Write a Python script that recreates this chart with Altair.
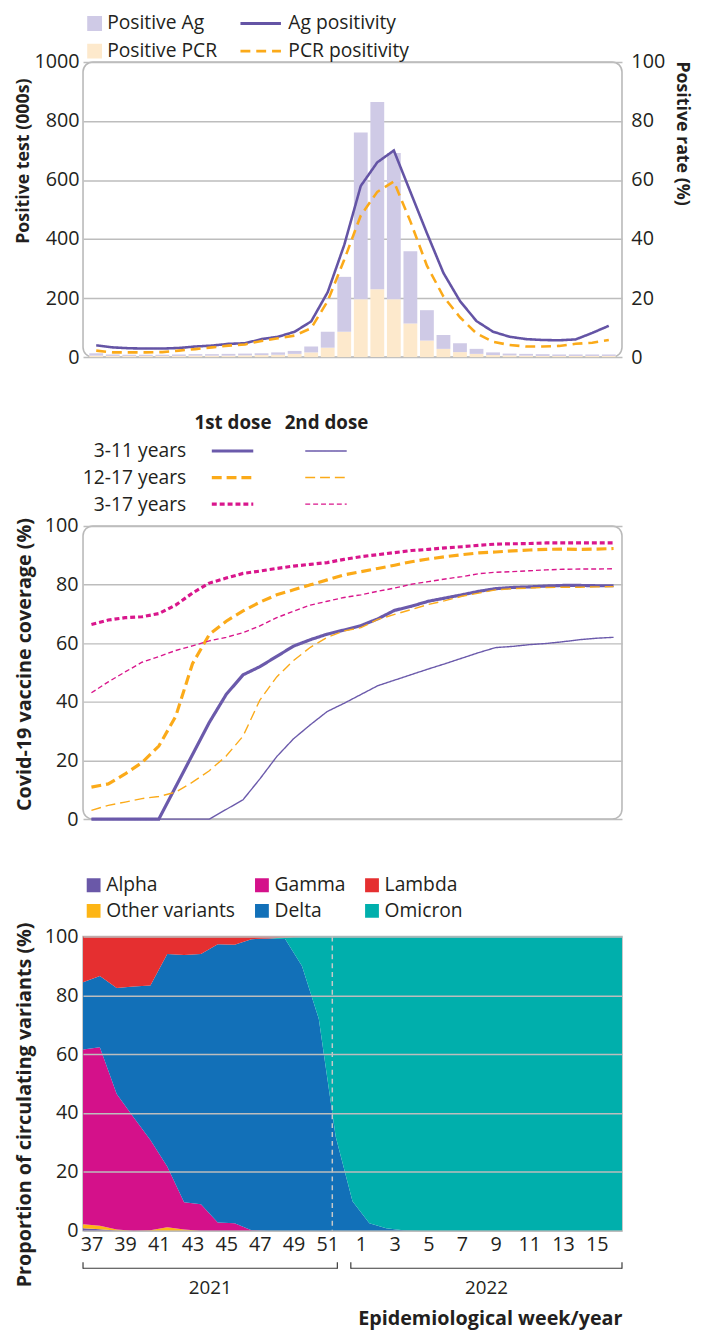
import altair as alt
import pandas as pd

# ---------------- data ----------------
weeks = list(range(37, 53)) + list(range(1, 17))
positions = list(range(len(weeks)))  # slot of each epidemiological week on the x axis

# Panel A: positive tests (thousands) and positivity (%)
positive_pcr = [5, 4, 4, 4, 4, 4, 5, 5, 5, 6, 7, 8, 11, 16, 32, 86, 196, 230, 196, 114, 56, 28, 17, 11, 7, 6, 5, 4, 4, 4, 4, 4]
positive_ag = [8, 5, 4, 4, 4, 5, 5, 5, 6, 6, 6, 8, 10, 20, 54, 186, 565, 634, 496, 245, 103, 47, 30, 17, 9, 6, 6, 6, 5, 5, 5, 5]
ag_positivity = [4.0, 3.3, 3.0, 2.9, 2.9, 3.1, 3.6, 3.9, 4.5, 4.7, 6.1, 6.9, 8.6, 12.1, 22.0, 38.0, 58.0, 66.0, 70.0, 56.0,
                 42.0, 28.5, 19.0, 12.2, 8.6, 6.9, 6.1, 5.8, 5.7, 6.0, 8.2, 10.6]
pcr_positivity = [2.2, 1.6, 1.6, 1.6, 1.7, 2.2, 2.7, 3.3, 3.9, 4.3, 5.5, 6.4, 7.3, 9.8, 19.0, 33.0, 48.0, 56.0, 59.5, 46.0,
                  31.0, 20.5, 13.5, 8.0, 5.2, 4.1, 3.6, 3.6, 3.8, 4.5, 4.9, 5.8]

# Panel B: vaccine coverage (%)
age_groups = ["3-11 years", "12-17 years", "3-17 years"]
doses = ["1st dose", "2nd dose"]
cov_3_11_dose1 = [0, 0, 0, 0, 0, 11, 22, 33, 42.5, 49.2, 52, 55.5, 59, 61.2, 63.1, 64.5, 66, 68.3, 71.2, 72.6, 74.3, 75.4,
                  76.5, 77.7, 78.6, 79, 79.2, 79.5, 79.7, 79.7, 79.6, 79.6]
cov_3_11_dose2 = [0, 0, 0, 0, 0, 0, 0, 0, 3.3, 6.6, 13.7, 21.3, 27.4, 32.2, 36.7, 39.5, 42.5, 45.5, 47.4, 49.3, 51.2, 53,
                  54.9, 56.8, 58.5, 58.9, 59.5, 59.9, 60.5, 61.2, 61.7, 62]
cov_12_17_dose1 = [10.9, 12, 15.4, 19.3, 24.9, 35, 53, 63, 67.5, 71, 74, 76.5, 78.2, 79.9, 81.6, 83.3, 84.4, 85.5, 86.6,
                   87.8, 88.7, 89.5, 90.2, 90.8, 91.1, 91.5, 91.8, 92, 92.1, 92, 92.1, 92.3]
cov_12_17_dose2 = [3.0, 4.7, 5.8, 7, 7.7, 9.2, 12.6, 16.5, 21.5, 28.3, 40.6, 48.5, 54.1, 58.6, 62, 64.2, 65.3, 68.1, 69.8,
                   71.5, 73.2, 74.5, 76, 77.1, 78.2, 78.6, 78.8, 79, 79.1, 79.1, 79.2, 79.3]
cov_3_17_dose1 = [66.4, 67.9, 68.7, 69, 70.1, 73, 77.1, 80.5, 82.2, 83.8, 84.6, 85.5, 86.3, 86.9, 87.5, 88.6, 89.5, 90.2,
                  90.9, 91.6, 92, 92.5, 92.9, 93.4, 93.8, 93.9, 94, 94.2, 94.2, 94.2, 94.2, 94.2]
cov_3_17_dose2 = [43.1, 46.8, 50.2, 53.5, 55.4, 57.5, 59.1, 60.8, 62, 63.6, 65.9, 68.7, 70.9, 73, 74.3, 75.6, 76.5, 77.7,
                  78.8, 80.1, 81, 81.9, 82.7, 83.7, 84.2, 84.4, 84.7, 85, 85.2, 85.3, 85.3, 85.4]

# Panel C: proportion of circulating variants (%)
variants_legend = ["Alpha", "Other variants", "Gamma", "Delta", "Lambda", "Omicron"]  # legend filled column by column
variants_stack = ["Alpha", "Other variants", "Gamma", "Delta", "Omicron", "Lambda"]   # bottom -> top
alpha = [0.8, 0.5, 0.1] + [0] * 29
other = [1.4, 1.2, 0.3, 0, 0.2, 1.2, 0.4] + [0] * 25
gamma = [59.4, 60.7, 46.1, 38.6, 30.6, 20.6, 9.3, 9.0, 2.8, 2.5, 0.2] + [0] * 21
delta = [22.9, 24.2, 36.0, 44.4, 52.6, 72.3, 84.0, 85.1, 94.6, 94.7, 98.9, 99.3, 99.2, 90, 72, 32, 10, 2.5, 0.8, 0.2] + [0] * 12
omicron = [0] * 12 + [0.5, 10, 28, 68, 90, 97.5, 99.2, 99.8] + [100] * 12
lambda_ = [15.5, 13.4, 17.5, 17.0, 16.6, 5.9, 6.3, 5.9, 2.6, 2.8, 0.9, 0.7, 0.3] + [0] * 19
omicron_marker = [14.3]

year_labels = ["2021", "2022"]
year_start = [-0.5, 15.4]
year_end = [14.6, 31.5]

# ---------------- styles ----------------
TXT = "#231f20"
FONT = "Open Sans"
W = 546
X_DOMAIN = [-0.5, 31.5]
LEG_FS = 19.5

ag_bar, pcr_bar = "#cfcae6", "#fde9cc"
ag_line, pcr_line = "#6454a5", "#fbaa19"
age_colors = ["#6b5aab", "#fbaa19", "#d9168c"]
age_dashes = [[1, 0], [10, 5], [5, 3]]
variant_colors = {"Alpha": "#6a58a8", "Gamma": "#d4118a", "Lambda": "#e52f30",
                  "Other variants": "#fdb515", "Delta": "#1270b8", "Omicron": "#00afac"}

xscale = alt.Scale(domain=X_DOMAIN, nice=False, zero=False)

# ---------------- panel A ----------------
bars_df = pd.DataFrame({
    "pos": positions * 2,
    "series": ["Positive PCR"] * len(weeks) + ["Positive Ag"] * len(weeks),
    "value": positive_pcr + positive_ag,
    "rank": [0] * len(weeks) + [1] * len(weeks),
})
lines_df = pd.DataFrame({
    "pos": positions * 2,
    "series": ["Ag positivity"] * len(weeks) + ["PCR positivity"] * len(weeks),
    "rate": ag_positivity + pcr_positivity,
})

bar_legend = alt.Legend(title=None, orient="none", legendX=2, legendY=-49, direction="vertical",
                        symbolType="square", symbolSize=225, symbolStrokeWidth=0, clipHeight=20,
                        rowPadding=8, labelOffset=3)
line_legend = alt.Legend(title=None, orient="none", legendX=158, legendY=-49, direction="vertical",
                         symbolType="stroke", symbolSize=1681, symbolStrokeWidth=3, clipHeight=20,
                         rowPadding=8, labelOffset=6)

bars = alt.Chart(bars_df).mark_bar(width=14).encode(
    x=alt.X("pos:Q", scale=xscale, axis=None),
    y=alt.Y("value:Q", stack="zero", scale=alt.Scale(domain=[0, 1000], nice=False),
            axis=alt.Axis(values=[0, 200, 400, 600, 800, 1000], format="d", title="Positive test (000s)", grid=True,
                          titleX=-51, titleY=100, titleFontSize=18, labelPadding=4)),
    color=alt.Color("series:N", scale=alt.Scale(domain=["Positive Ag", "Positive PCR"], range=[ag_bar, pcr_bar]),
                    legend=bar_legend),
    order=alt.Order("rank:Q"),
)
lines = alt.Chart(lines_df).mark_line(strokeWidth=2.6).encode(
    x=alt.X("pos:Q", scale=xscale, axis=None),
    y=alt.Y("rate:Q", scale=alt.Scale(domain=[0, 100], nice=False),
            axis=alt.Axis(orient="right", values=[0, 20, 40, 60, 80, 100], title="Positive rate (%)", grid=False,
                          labelPadding=9, titlePadding=8, titleY=72, titleFontSize=18)),
    color=alt.Color("series:N", scale=alt.Scale(domain=["Ag positivity", "PCR positivity"], range=[ag_line, pcr_line]),
                    legend=line_legend),
    strokeDash=alt.StrokeDash("series:N", scale=alt.Scale(domain=["Ag positivity", "PCR positivity"],
                                                          range=[[1, 0], [10, 6]]), legend=line_legend),
)
top = alt.layer(bars, lines).resolve_scale(y="independent", color="independent", strokeDash="independent").properties(
    width=W, height=299)

# ---------------- panel B ----------------
cov_series = {
    ("3-11 years", "1st dose"): cov_3_11_dose1, ("3-11 years", "2nd dose"): cov_3_11_dose2,
    ("12-17 years", "1st dose"): cov_12_17_dose1, ("12-17 years", "2nd dose"): cov_12_17_dose2,
    ("3-17 years", "1st dose"): cov_3_17_dose1, ("3-17 years", "2nd dose"): cov_3_17_dose2,
}
rows = []
for (age, dose), vals in cov_series.items():
    for p, v in zip(positions, vals):
        rows.append({"pos": p, "age": age, "dose": dose, "coverage": v})
cov_df = pd.DataFrame(rows)

age_color = alt.Scale(domain=age_groups, range=age_colors)
age_dash = alt.Scale(domain=age_groups, range=age_dashes)
dose_width = alt.Scale(domain=doses, range=[3.2, 1.4])

mid = alt.Chart(cov_df).mark_line().encode(
    x=alt.X("pos:Q", scale=xscale, axis=None),
    y=alt.Y("coverage:Q", scale=alt.Scale(domain=[0, 100], nice=False),
            axis=alt.Axis(values=[0, 20, 40, 60, 80, 100], title="Covid-19 vaccine coverage (%)", grid=True,
                          titleX=-49, titleY=140)),
    color=alt.Color("age:N", scale=age_color, legend=None),
    strokeDash=alt.StrokeDash("age:N", scale=age_dash, legend=None),
    strokeWidth=alt.StrokeWidth("dose:N", scale=dose_width, legend=None),
    detail="dose:N",
).properties(width=W, height=297)

key_df = pd.DataFrame([{"age": a, "dose": d} for a in age_groups for d in doses])
dose_key = alt.Chart(key_df).mark_point(shape="stroke", size=1764, filled=False, opacity=1).encode(
    x=alt.X("dose:N", scale=alt.Scale(type="point", domain=doses, padding=1, align=0.8),
            axis=alt.Axis(orient="top", title=None, labelAngle=0, labelFontWeight="bold", labelFontSize=19,
                          labelPadding=11, domain=False, ticks=False, grid=False)),
    y=alt.Y("age:N", scale=alt.Scale(type="point", domain=age_groups, padding=0.3),
            axis=alt.Axis(title=None, offset=-104, labelPadding=0, labelFontSize=LEG_FS, domain=False, ticks=False,
                          grid=False)),
    color=alt.Color("age:N", scale=age_color, legend=None),
    strokeDash=alt.StrokeDash("age:N", scale=age_dash, legend=None),
    strokeWidth=alt.StrokeWidth("dose:N", scale=dose_width, legend=None),
).properties(width=284, height=70, view=alt.ViewBackground(stroke="transparent"))

# ---------------- panel C ----------------
variant_values = {"Alpha": alpha, "Other variants": other, "Gamma": gamma, "Delta": delta,
                  "Omicron": omicron, "Lambda": lambda_}
vrows = []
for v in variants_stack:
    vals = variant_values[v]
    # each weekly share is drawn across its week slot (slot start .. end)
    for p, val in zip(positions, vals):
        vrows.append({"pos": p - 0.5, "variant": v, "share": val, "rank": variants_stack.index(v)})
    vrows.append({"pos": positions[-1] + 0.5, "variant": v, "share": vals[-1], "rank": variants_stack.index(v)})
var_df = pd.DataFrame(vrows)

label_expr = "[" + ",".join("'%d'" % w for w in weeks) + "][datum.value]"
x_axis_c = alt.Axis(values=positions[::2], labelExpr=label_expr, title="Epidemiological week/year",
                    titleAnchor="end", titlePadding=55, titleFontSize=20, labelPadding=4, labelFlush=False,
                    labelOverlap=False, grid=False)

H_C = 298
area = alt.Chart(var_df).mark_area(interpolate="linear").encode(
    x=alt.X("pos:Q", scale=xscale, axis=x_axis_c),
    y=alt.Y("share:Q", stack="zero", scale=alt.Scale(domain=[0, 100], nice=False),
            axis=alt.Axis(values=[0, 20, 40, 60, 80, 100], title="Proportion of circulating variants (%)",
                          grid=True, zindex=1, titleX=-49, titleY=170)),
    color=alt.Color("variant:N", scale=alt.Scale(domain=variants_legend,
                                                 range=[variant_colors[v] for v in variants_legend]),
                    legend=alt.Legend(title=None, orient="none", legendX=1, legendY=-62, columns=3,
                                      symbolType="square", symbolSize=196, symbolStrokeWidth=0, clipHeight=20,
                                      rowPadding=6, columnPadding=16.5, labelOffset=3)),
    order=alt.Order("rank:Q"),
)
marker = alt.Chart(pd.DataFrame({"pos": omicron_marker})).mark_rule(
    color="#c8c8c8", strokeDash=[5, 4], strokeWidth=1.5).encode(x=alt.X("pos:Q", scale=xscale, axis=x_axis_c))

years_df = pd.DataFrame({"year": year_labels, "pos": year_start, "pos_end": year_end})
bracket = alt.Chart(years_df).mark_rule(color="#3a3a3a", strokeWidth=1.2).encode(
    x=alt.X("pos:Q", scale=xscale, axis=x_axis_c), x2="pos_end:Q", y=alt.value(H_C + 38))
bracket_l = alt.Chart(years_df).mark_rule(color="#3a3a3a", strokeWidth=1.2).encode(
    x=alt.X("pos:Q", scale=xscale, axis=x_axis_c), y=alt.value(H_C + 32), y2=alt.value(H_C + 38.5))
bracket_r = alt.Chart(years_df).mark_rule(color="#3a3a3a", strokeWidth=1.2).encode(
    x=alt.X("pos_end:Q", scale=xscale, axis=x_axis_c), y=alt.value(H_C + 32), y2=alt.value(H_C + 38.5))
year_text = alt.Chart(years_df).transform_calculate(
    mid="(datum.pos + datum.pos_end) / 2").mark_text(font=FONT, fontSize=19, color=TXT).encode(
    x=alt.X("mid:Q", scale=xscale, axis=x_axis_c), y=alt.value(H_C + 58), text="year:N")

bottom = alt.layer(area, marker, bracket, bracket_l, bracket_r, year_text).properties(
    width=W, height=H_C, view=alt.ViewBackground(cornerRadius=0))

# ---------------- assemble ----------------
middle = alt.vconcat(dose_key, mid, spacing=0).resolve_scale(x="independent", y="independent")
chart = alt.vconcat(top, middle, bottom, spacing=45).resolve_scale(
    x="independent", y="independent", color="independent", strokeDash="independent", strokeWidth="independent"
).configure(padding={"left": 6, "top": -4, "right": 6, "bottom": 0}, background="white").configure_view(
    stroke="#b9b9b9", strokeWidth=1.6, cornerRadius=10
).configure_axis(
    labelFont=FONT, labelFontSize=20, labelColor=TXT, labelPadding=5, domain=False, ticks=False,
    gridColor="#bdbdbd", gridWidth=1.5, titleFont=FONT, titleFontWeight="bold", titleFontSize=20,
    titleColor=TXT, labelOverlap=False
).configure_legend(
    labelFont=FONT, labelFontSize=LEG_FS, labelColor=TXT, padding=0
)

chart.save("out.html", embed_options={"renderer": "svg", "actions": False})
